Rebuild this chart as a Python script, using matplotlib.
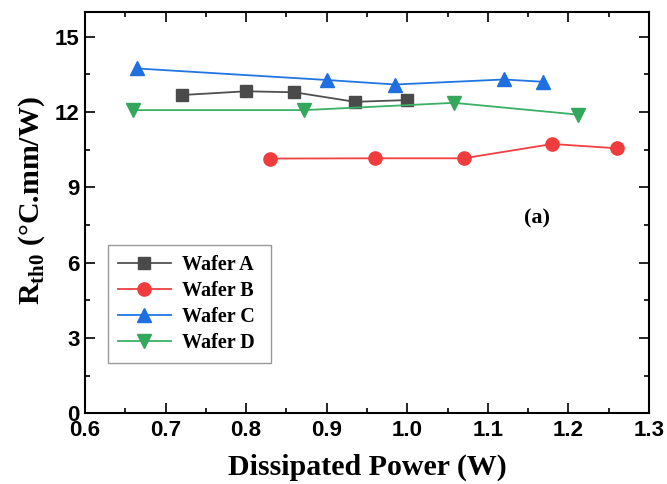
import matplotlib
matplotlib.use("Agg")
import matplotlib.pyplot as plt
from matplotlib.ticker import MultipleLocator, FormatStrFormatter

plt.rcParams['mathtext.fontset'] = 'custom'
plt.rcParams['mathtext.rm'] = 'Liberation Serif:bold'
plt.rcParams['mathtext.bf'] = 'Liberation Serif:bold'

# data
power_a = [0.72, 0.80, 0.86, 0.935, 1.00]
rth_a = [12.68, 12.83, 12.79, 12.41, 12.48]
power_b = [0.83, 0.96, 1.07, 1.18, 1.26]
rth_b = [10.15, 10.16, 10.16, 10.73, 10.56]
power_c = [0.664, 0.90, 0.985, 1.12, 1.168]
rth_c = [13.74, 13.28, 13.10, 13.30, 13.21]
power_d = [0.66, 0.872, 1.058, 1.212]
rth_d = [12.08, 12.08, 12.37, 11.90]

fig = plt.figure(figsize=(6.67, 4.84), dpi=100)
ax = fig.add_axes([0.1274, 0.146, 0.8456, 0.8298])

ax.plot(power_a, rth_a, "-s", color="#505050", mfc="#4a4a4a", mec="#4a4a4a", ms=8.5, lw=1.3, label="Wafer A")
ax.plot(power_b, rth_b, "-o", color="#f04040", mfc="#f03c3c", mec="#f03c3c", ms=9.5, lw=1.3, label="Wafer B")
ax.plot(power_c, rth_c, "-^", color="#2275e0", mfc="#1f6fe0", mec="#1f6fe0", ms=10, lw=1.3, label="Wafer C")
ax.plot(power_d, rth_d, "-v", color="#3cb065", mfc="#33a85c", mec="#33a85c", ms=10, lw=1.3, label="Wafer D")

ax.set_xlim(0.6, 1.3)
ax.set_ylim(0, 16)
ax.xaxis.set_major_locator(MultipleLocator(0.1))
ax.xaxis.set_minor_locator(MultipleLocator(0.05))
ax.xaxis.set_major_formatter(FormatStrFormatter("%.1f"))
ax.yaxis.set_major_locator(MultipleLocator(3))
ax.yaxis.set_minor_locator(MultipleLocator(1.5))
ax.tick_params(which="both", direction="in", top=True, right=True, width=1.2)
ax.tick_params(which="major", length=7)
ax.tick_params(axis="x", which="major", pad=5)
ax.tick_params(axis="y", which="major", pad=4)
ax.tick_params(which="minor", length=3.5)
for lbl in ax.get_xticklabels() + ax.get_yticklabels():
    lbl.set_fontfamily("Liberation Sans")
    lbl.set_fontweight("bold")
    lbl.set_fontsize(16)
for s in ax.spines.values():
    s.set_linewidth(1.5)

ax.set_xlabel("Dissipated Power (W)", fontfamily="Liberation Serif", fontweight="bold", fontsize=21.5, labelpad=9)
ax.set_ylabel("R$_{\\mathrm{th0}}$ (°C.mm/W)", fontfamily="Liberation Serif", fontweight="bold", fontsize=21.5)
ax.yaxis.set_label_coords(-0.068, 0.53)

ax.text(1.161, 7.78, "(a)", fontfamily="Liberation Serif", fontweight="bold", fontsize=16,
        ha="center", va="center")

leg = ax.legend(loc="upper left", bbox_to_anchor=(0.041, 0.119, 0.289, 0.3), mode="expand",
                borderaxespad=0,
                prop={"family": "Liberation Serif", "weight": "bold", "size": 14.5},
                fancybox=False, edgecolor="#808080", handlelength=2.6, handletextpad=0.55,
                borderpad=0.5, labelspacing=0.3)
leg.get_frame().set_linewidth(1.0)

fig.savefig("out.png", dpi=100)
